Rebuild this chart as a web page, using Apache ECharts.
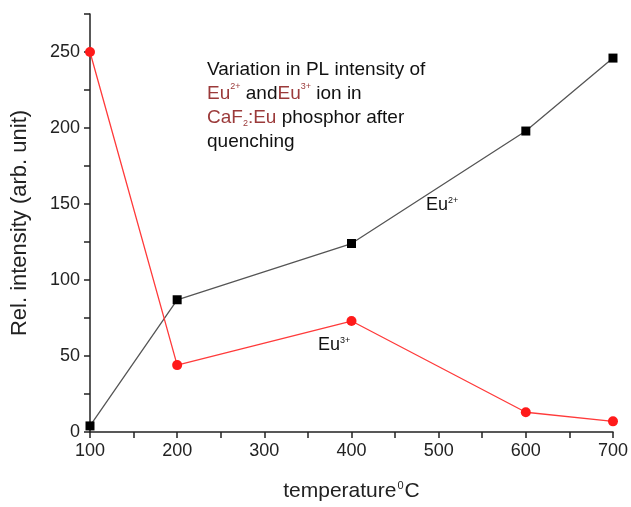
<!DOCTYPE html>
<html>
<head>
<meta charset="utf-8">
<script src="https://cdn.jsdelivr.net/npm/echarts@6/dist/echarts.min.js"></script>
<style>
  html, body { margin: 0; padding: 0; background: #fff; }
  #chart { width: 631px; height: 507px; }
</style>
</head>
<body>
<div id="chart"></div>
<script>
// temperature (°C)
const temps = [100, 200, 400, 600, 700]
// Eu2+ intensity (black squares)
const eu2 = [4, 87, 124, 198, 246]
// Eu3+ intensity (red circles)
const eu3 = [250, 44, 73, 13, 7]

const chart = echarts.init(document.getElementById('chart'))
const font = 'Liberation Sans, Arial, sans-serif'
const darkRed = '#9b3a3a'

const option = {
  backgroundColor: '#fff',
  animation: false,
  grid: {
    left: 90,
    right: 18,
    top: 14,
    bottom: 73
  },
  xAxis: {
    type: 'value',
    min: 100,
    max: 700,
    interval: 50,
    name: 'temperature{sup|0}C',
    nameLocation: 'middle',
    nameGap: 48,
    nameTextStyle: {
      fontFamily: font,
      fontSize: 21,
      color: '#222',
      rich: {
        sup: { fontSize: 11, verticalAlign: 'top', padding: [0, 1, 12, 1], color: '#222', fontFamily: font }
      }
    },
    axisLine: { lineStyle: { color: '#222', width: 1.5 } },
    axisTick: { length: 6, lineStyle: { color: '#222', width: 1.5 } },
    axisLabel: {
      fontFamily: font,
      fontSize: 18,
      color: '#222',
      margin: 10,
      formatter: v => (v % 100 === 0 ? String(v) : '')
    },
    splitLine: { show: false }
  },
  yAxis: {
    type: 'value',
    min: 0,
    max: 275,
    interval: 25,
    name: 'Rel. intensity (arb. unit)',
    nameLocation: 'middle',
    nameGap: 59,
    nameTextStyle: { fontFamily: font, fontSize: 22, color: '#222' },
    axisLine: { show: true, lineStyle: { color: '#222', width: 1.5 } },
    axisTick: { show: true, length: 6, lineStyle: { color: '#222', width: 1.5 } },
    axisLabel: {
      fontFamily: font,
      fontSize: 18,
      color: '#222',
      margin: 10,
      formatter: v => (v % 50 === 0 && v <= 250 ? String(v) : '')
    },
    splitLine: { show: false }
  },
  series: [
    {
      name: 'Eu2+',
      type: 'line',
      data: temps.map((t, i) => [t, eu2[i]]),
      symbol: 'rect',
      symbolSize: 9,
      itemStyle: { color: '#000' },
      lineStyle: { color: '#555', width: 1.3 },
      z: 3
    },
    {
      name: 'Eu3+',
      type: 'line',
      data: temps.map((t, i) => [t, eu3[i]]),
      symbol: 'circle',
      symbolSize: 10,
      itemStyle: { color: '#ff1a1a' },
      lineStyle: { color: '#ff3a3a', width: 1.3 },
      z: 4
    }
  ],
  graphic: [
    {
      type: 'text',
      left: 207,
      top: 58,
      style: {
        text: 'Variation in PL intensity of\n{r|Eu}{rs|2+} and{r|Eu}{rs|3+} ion in\n{r|CaF}{rsub|2}{r|:Eu} phosphor after\nquenching',
        fontFamily: font,
        fontSize: 19,
        lineHeight: 24,
        fill: '#111',
        rich: {
          r: { fill: darkRed, fontSize: 19, fontFamily: font },
          rs: { fill: darkRed, fontSize: 9, fontFamily: font, verticalAlign: 'top', padding: [0, 0, 10, 0] },
          rsub: { fill: darkRed, fontSize: 9, fontFamily: font, padding: [12, 0, 0, 0] }
        }
      }
    },
    {
      type: 'text',
      left: 426,
      top: 196,
      style: {
        text: 'Eu{s|2+}',
        fontFamily: font,
        fontSize: 18,
        fill: '#111',
        rich: { s: { fontSize: 9, fill: '#111', fontFamily: font, padding: [0, 0, 10, 0] } }
      }
    },
    {
      type: 'text',
      left: 318,
      top: 336,
      style: {
        text: 'Eu{s|3+}',
        fontFamily: font,
        fontSize: 18,
        fill: '#111',
        rich: { s: { fontSize: 9, fill: '#111', fontFamily: font, padding: [0, 0, 10, 0] } }
      }
    }
  ]
}

chart.setOption(option)
</script>
</body>
</html>
